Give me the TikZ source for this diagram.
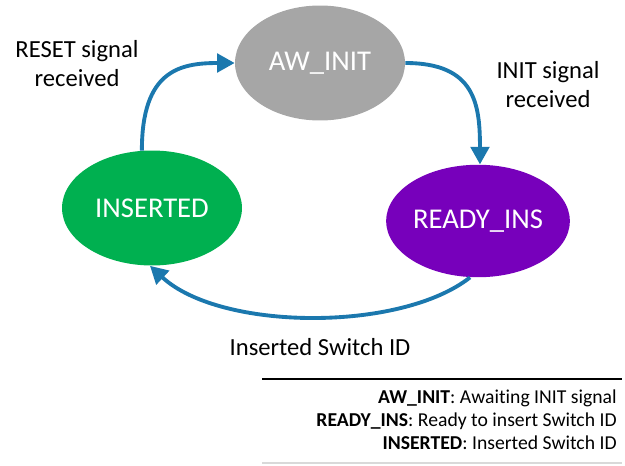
\documentclass[tikz,border=0pt]{standalone}
\usepackage{fontspec}
\setmainfont{Carlito}[Ligatures=CommonOff]
\usepackage{tikz}
\usetikzlibrary{arrows.meta,positioning,shapes.geometric}

\definecolor{awgray}{HTML}{A6A6A6}
\definecolor{rdypurple}{HTML}{7700BB}
\definecolor{insgreen}{HTML}{00B050}
\definecolor{arrowblue}{HTML}{1B78AE}

\begin{document}
\begin{tikzpicture}[
  x=0.02cm, y=-0.02cm,
  state/.style={ellipse,text=white,font=\fontsize{16.3}{19}\selectfont,minimum width=3.4cm,minimum height=2.3cm,inner sep=0pt},
  lbl/.style={align=center,font=\fontsize{14}{16.5}\selectfont},
  trans/.style={-{Triangle[length=10pt,width=10.5pt]},line width=2.2pt,draw=arrowblue}
]
  \useasboundingbox (0,0) rectangle (625,466);

  \node[state, fill=awgray] (aw) at (320,63) {AW\_INIT};
  \node[state, fill=rdypurple, minimum width=3.6cm, minimum height=2.25cm] (rdy) at (478,221) {READY\_INS};
  \node[state, fill=insgreen, minimum width=3.6cm] (ins) at (152,208) {INSERTED};

  \node[lbl] (lreset) at (77,64) {RESET signal\\received};
  \node[lbl] (linit) at (548,85) {INIT signal\\received};
  \node[lbl] (lins) at (320,347) {Inserted Switch ID};

  \draw[trans] (ins.100) .. controls +(0,-80) and +(-55,0) .. (aw.west);
  \draw[trans] (aw.east) .. controls +(70,0) and +(0,-60) .. (rdy.88);
  \draw[trans] (rdy.262) .. controls +(-70,55) and +(70,65) .. (ins.268);

  % legend
  \draw[line width=1pt] (262,379) -- (622,379);
  \draw[black!15, line width=0.6pt] (262,463) -- (622,463);
  \node[align=right, anchor=east, inner sep=0pt, font=\fontsize{11.2}{13.2}\selectfont] (legend) at (617,420)
    {\textbf{AW\_INIT}: Awaiting INIT signal\\
     \textbf{READY\_INS}: Ready to insert Switch ID\\
     \textbf{INSERTED}: Inserted Switch ID};
\end{tikzpicture}
\end{document}
